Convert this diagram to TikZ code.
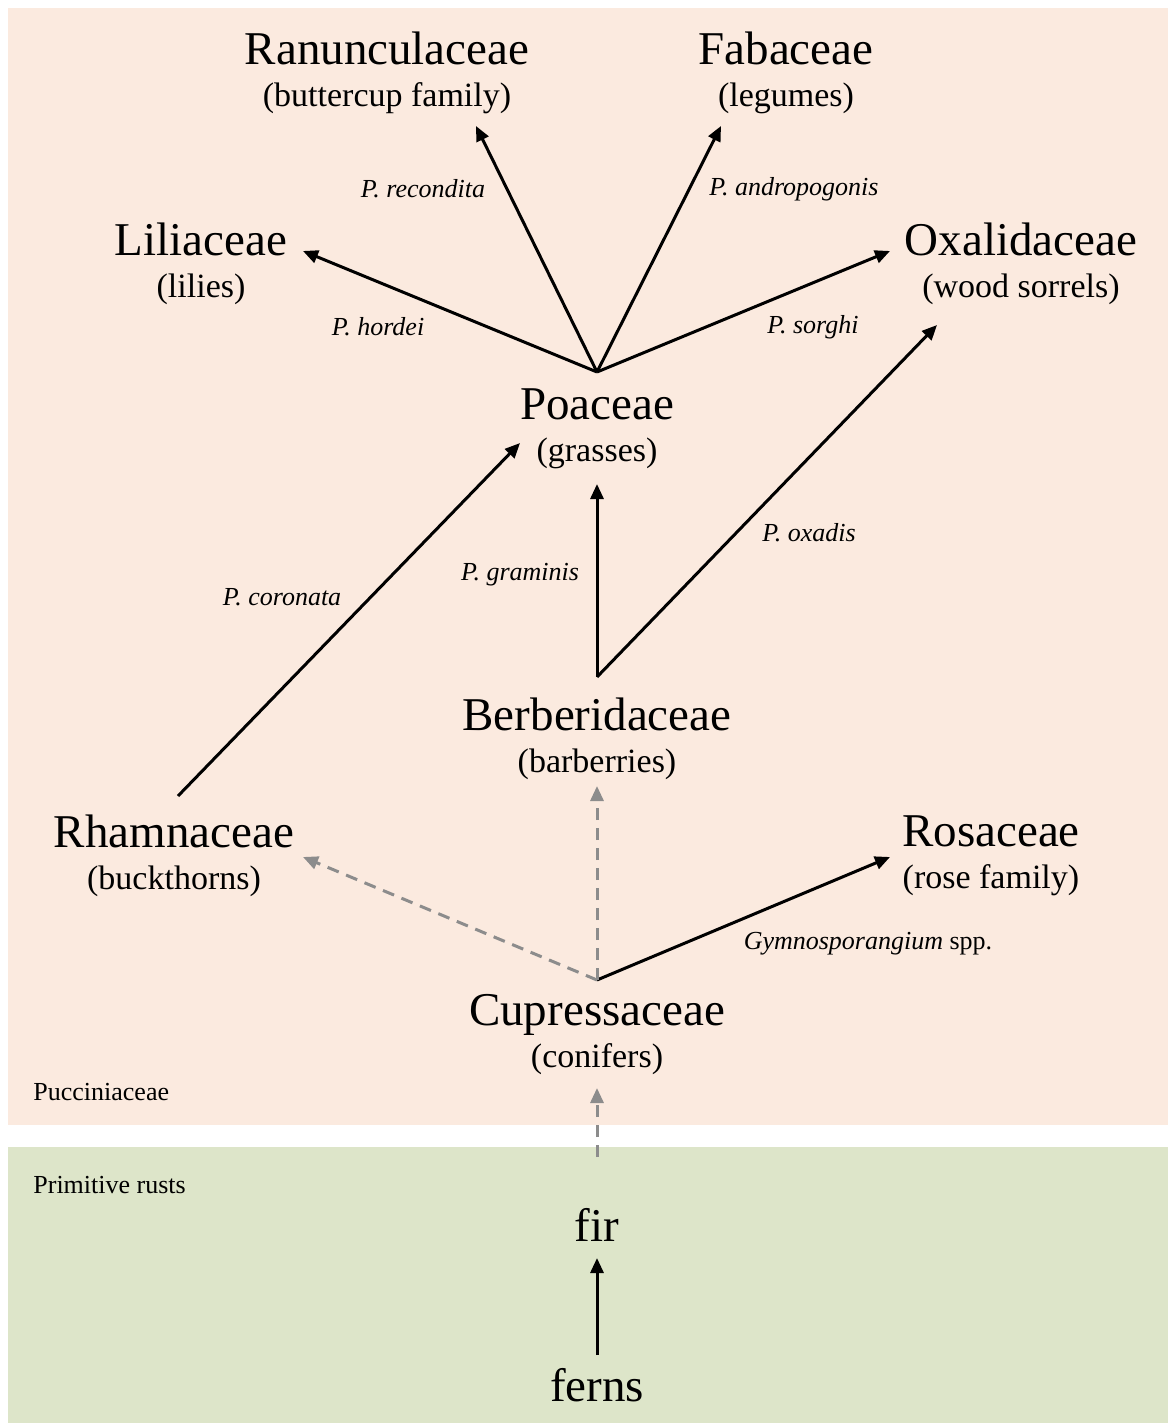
\documentclass[tikz,border=0pt]{standalone}
\usepackage{fontspec}
\setmainfont{Liberation Serif}
\usetikzlibrary{arrows.meta}
\definecolor{puccbg}{RGB}{251,234,223}
\definecolor{primbg}{RGB}{221,229,201}
\definecolor{hostgray}{RGB}{140,140,140}
\tikzset{host/.style={align=center,font=\fontsize{17}{21}\selectfont,inner sep=0pt}}
\tikzset{rust/.style={font=\fontsize{13}{15}\selectfont\itshape,inner sep=1pt}}
\tikzset{group/.style={font=\fontsize{13}{15}\selectfont,anchor=west,inner sep=0pt}}
\tikzset{jump/.style={line width=1.5pt,-{Triangle[length=7.5pt,width=6.5pt]}}}
\tikzset{guess/.style={jump,hostgray,dash pattern=on 6pt off 4pt}}
\newcommand{\hostname}[1]{{\fontsize{23.5}{28}\selectfont #1}}

\begin{document}
\begin{tikzpicture}[x=0.5pt,y=-0.5pt]
      \useasboundingbox (0,0) rectangle (1168,1423);
      \fill[puccbg] (8,8) rectangle (1168,1125);
      \fill[primbg] (8,1147) rectangle (1168,1423);
      \node[group] (pucc) at (33,1092) {Pucciniaceae};
      \node[group] (prim) at (33,1185) {Primitive rusts};
      % host families
      \node[host] (ranun) at (387,73) {\hostname{Ranunculaceae}\\(buttercup family)};
      \node[host] (faba) at (786,73) {\hostname{Fabaceae}\\(legumes)};
      \node[host] (lili) at (201,264) {\hostname{Liliaceae}\\(lilies)};
      \node[host] (oxal) at (1021,264) {\hostname{Oxalidaceae}\\(wood sorrels)};
      \node[host] (poa) at (597,429) {\hostname{Poaceae}\\(grasses)};
      \node[host] (berb) at (597,739) {\hostname{Berberidaceae}\\(barberries)};
      \node[host] (rham) at (174,856) {\hostname{Rhamnaceae}\\(buckthorns)};
      \node[host] (rosa) at (991,856) {\hostname{Rosaceae}\\(rose family)};
      \node[host] (cupr) at (597,1035) {\hostname{Cupressaceae}\\(conifers)};
      \node[host] (fir) at (597,1225) {\hostname{fir}};
      \node[host] (ferns) at (597,1385) {\hostname{ferns}};
      % where the arrows start and end
      \coordinate (poa-hub) at (597,372);
      \coordinate (poa-in) at (597,484);
      \coordinate (poa-left) at (520,443);
      \coordinate (ranun-in) at (476,126);
      \coordinate (faba-in) at (721,126);
      \coordinate (lili-in) at (303,251);
      \coordinate (oxal-in) at (890,251);
      \coordinate (oxal-low) at (937,325);
      \coordinate (berb-hub) at (597,677);
      \coordinate (berb-in) at (597,786);
      \coordinate (rham-out) at (178,796);
      \coordinate (rham-in) at (303,857);
      \coordinate (rosa-in) at (890,857);
      \coordinate (cupr-hub) at (597,980);
      \coordinate (cupr-in) at (597,1088);
      \coordinate (fir-out) at (597,1157);
      \coordinate (fir-in) at (597,1258);
      \coordinate (ferns-out) at (597,1355);
      \foreach \a/\b in {poa-hub/ranun-in,poa-hub/faba-in,poa-hub/lili-in,poa-hub/oxal-in,
                         berb-hub/poa-in,berb-hub/oxal-low,rham-out/poa-left,
                         cupr-hub/rosa-in,ferns-out/fir-in}
        \draw[jump] (\a) -- (\b);
      \foreach \a/\b in {cupr-hub/rham-in,cupr-hub/berb-in,fir-out/cupr-in}
        \draw[guess] (\a) -- (\b);
      % rust species
      \node[rust] (recon) at (423,189) {P. recondita};
      \node[rust] (andro) at (794,189) {P. andropogonis};
      \node[rust] (hord) at (378,327) {P. hordei};
      \node[rust] (sorg) at (813,327) {P. sorghi};
      \node[rust] (coro) at (282,597) {P. coronata};
      \node[rust] (gram) at (520,575) {P. graminis};
      \node[rust] (oxad) at (809,533) {P. oxadis};
      \node[rust] (gymno) at (868,944) {Gymnosporangium \upshape spp.};
\end{tikzpicture}
\end{document}
